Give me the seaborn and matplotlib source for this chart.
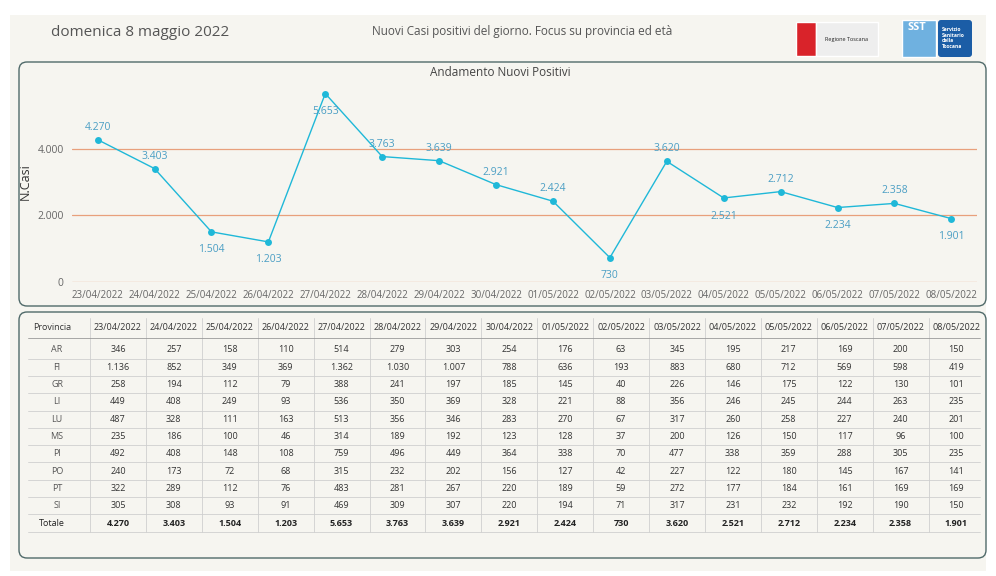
import matplotlib
matplotlib.use("Agg")
import matplotlib.pyplot as plt
import numpy as np
import pandas as pd
import seaborn as sns
from matplotlib.patches import FancyBboxPatch, Rectangle

dates = ["23/04/2022", "24/04/2022", "25/04/2022", "26/04/2022", "27/04/2022", "28/04/2022",
         "29/04/2022", "30/04/2022", "01/05/2022", "02/05/2022", "03/05/2022", "04/05/2022",
         "05/05/2022", "06/05/2022", "07/05/2022", "08/05/2022"]
totals = [4270, 3403, 1504, 1203, 5653, 3763, 3639, 2921, 2424, 730, 3620, 2521, 2712, 2234, 2358, 1901]
label_below = [False, False, True, True, True, False, False, False, False, True, False, True, False, True, False, True]
provinces = ["AR", "FI", "GR", "LI", "LU", "MS", "PI", "PO", "PT", "SI"]
AR = [346, 257, 158, 110, 514, 279, 303, 254, 176, 63, 345, 195, 217, 169, 200, 150]
FI = [1136, 852, 349, 369, 1362, 1030, 1007, 788, 636, 193, 883, 680, 712, 569, 598, 419]
GR = [258, 194, 112, 79, 388, 241, 197, 185, 145, 40, 226, 146, 175, 122, 130, 101]
LI = [449, 408, 249, 93, 536, 350, 369, 328, 221, 88, 356, 246, 245, 244, 263, 235]
LU = [487, 328, 111, 163, 513, 356, 346, 283, 270, 67, 317, 260, 258, 227, 240, 201]
MS = [235, 186, 100, 46, 314, 189, 192, 123, 128, 37, 200, 126, 150, 117, 96, 100]
PI = [492, 408, 148, 108, 759, 496, 449, 364, 338, 70, 477, 338, 359, 288, 305, 235]
PO = [240, 173, 72, 68, 315, 232, 202, 156, 127, 42, 227, 122, 180, 145, 167, 141]
PT = [322, 289, 112, 76, 483, 281, 267, 220, 189, 59, 272, 177, 184, 161, 169, 169]
SI = [305, 308, 93, 91, 469, 309, 307, 220, 194, 71, 317, 231, 232, 192, 190, 150]
rows = [AR, FI, GR, LI, LU, MS, PI, PO, PT, SI]


def fmt(v):
    return f"{v:,}".replace(",", ".")


sns.set_theme(style="white")
plt.rcParams["font.family"] = ["Open Sans", "DejaVu Sans"]
BG = "#f6f5f0"
LINE = "#1fb8d8"
TXT = "#444444"

fig = plt.figure(figsize=(9.96, 5.76), dpi=100, facecolor="white")
bg = fig.add_axes([0, 0, 1, 1])
bg.set_xlim(0, 996)
bg.set_ylim(576, 0)
bg.axis("off")
bg.add_patch(Rectangle((10, 15), 976, 556, facecolor=BG, edgecolor="none"))
for y0, h in [(62, 244), (312, 246)]:
    bg.add_patch(FancyBboxPatch((19, y0), 967, h, boxstyle="round,pad=0,rounding_size=8",
                                facecolor=BG, edgecolor="#506a6a", linewidth=1))
bg.text(140, 32, "domenica 8 maggio 2022", fontsize=11, color="#555555", ha="center", va="center")
bg.text(522, 31, "Nuovi Casi positivi del giorno. Focus su provincia ed età", fontsize=8.5,
        color="#555555", ha="center", va="center")
bg.add_patch(Rectangle((796, 22), 20, 34, facecolor="#d9232a"))
bg.add_patch(Rectangle((816, 22), 62, 34, facecolor="#eeeeee"))
bg.text(847, 39, "Regione Toscana", fontsize=4, color="#222", ha="center", va="center")
bg.add_patch(Rectangle((902, 20), 34, 37, facecolor="#6fb1e0"))
bg.text(917, 28, "SST", fontsize=8, color="white", weight="bold", ha="center", va="center")
bg.add_patch(FancyBboxPatch((938, 20), 34, 37, boxstyle="round,pad=0,rounding_size=3",
                            facecolor="#1b5da6", edgecolor="none"))
bg.text(942, 38, "Servizio\nSanitario\ndella\nToscana", fontsize=3.6, color="white",
        weight="bold", ha="left", va="center")
bg.text(500, 73, "Andamento Nuovi Positivi", fontsize=8.5, color=TXT, ha="center", va="center")

# line chart
ax = fig.add_axes([72 / 996, 1 - 282 / 576, 905 / 996, 200 / 576])
ax.set_facecolor("none")
df = pd.DataFrame({"x": np.arange(len(dates)), "y": totals})
sns.lineplot(data=df, x="x", y="y", ax=ax, color=LINE, linewidth=1, marker="o",
             markersize=5, markeredgewidth=0)
for y in [0, 2000, 4000]:
    ax.axhline(y, color="#e8a07c", linewidth=0.9, zorder=0)
for i, (v, below) in enumerate(zip(totals, label_below)):
    ax.annotate(fmt(v), (i, v), xytext=(0, -13 if below else 9), textcoords="offset points",
                ha="center", va="center", fontsize=7.5, color="#4a9ec4")
ax.set_xlim(-0.45, len(dates) - 0.55)
ax.set_ylim(0, 6000)
ax.set_xticks(df["x"])
ax.set_xticklabels(dates, fontsize=7, color="#666666")
ax.set_yticks([0, 2000, 4000])
ax.set_yticklabels(["0", "2.000", "4.000"], fontsize=7.5, color="#666666")
ax.tick_params(length=0, pad=6)
ax.set_xlabel("")
ax.set_ylabel("N.Casi", fontsize=9, color="#333333")
sns.despine(ax=ax, left=True, bottom=True)

# table
col_l = 90
col_w = 55.9
x_edges = [col_l + col_w * i for i in range(len(dates) + 1)]
row_y = [327] + [350 + 17.3 * i for i in range(len(rows) + 1)]
grid = "#cfcfcf"
for xe in x_edges[:-1]:
    bg.plot([xe, xe], [318, 532], color=grid, linewidth=0.6)
for k in range(len(row_y)):
    yl = row_y[k] + (11 if k == 0 else 8.65)
    bg.plot([28, 980], [yl, yl], color=grid if k else "#999999", linewidth=0.6)
bg.text(52, row_y[0], "Provincia", fontsize=6.5, color="#333", ha="center", va="center")
for j, d in enumerate(dates):
    bg.text(col_l + col_w * (j + 0.5), row_y[0], d, fontsize=6.5, color="#333",
            ha="center", va="center")
for i, (p, vals) in enumerate(zip(provinces, rows)):
    y = row_y[i + 1]
    bg.text(57, y, p, fontsize=6.5, color="#555", ha="center", va="center")
    for j, v in enumerate(vals):
        bg.text(col_l + col_w * (j + 0.5), y, fmt(v), fontsize=6.5, color="#333",
                ha="center", va="center")
y = row_y[-1]
bg.text(52, y, "Totale", fontsize=6.5, color="#222", ha="center", va="center")
for j, v in enumerate(totals):
    bg.text(col_l + col_w * (j + 0.5), y, fmt(v), fontsize=6.5, color="#222",
            weight="bold", ha="center", va="center")

fig.savefig("out.png", dpi=100, facecolor="white")
